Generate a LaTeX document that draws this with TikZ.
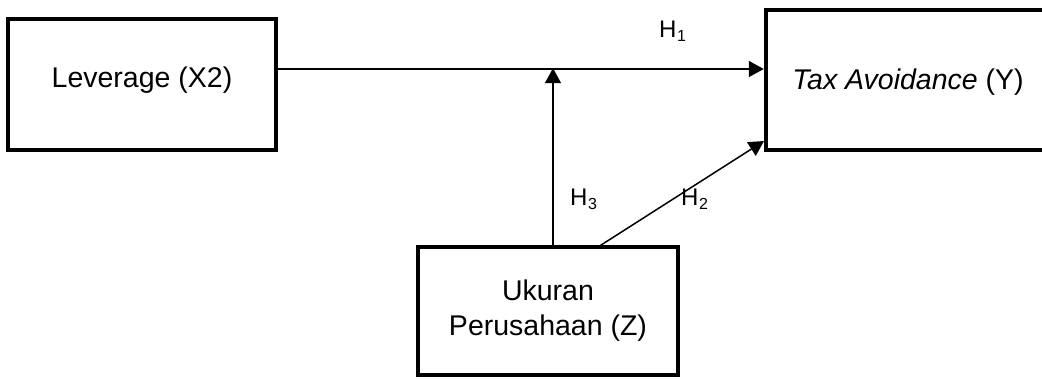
\documentclass[tikz,border=0pt]{standalone}
\usepackage{fontspec}
\setmainfont{Liberation Sans}
\usetikzlibrary{arrows.meta,calc}
\newcommand{\hyp}[1]{H\kern0.5pt\raisebox{-4.5pt}{\fontsize{16}{16}\selectfont #1}}
\begin{document}
\begin{tikzpicture}[x=1pt,y=-1pt,
  box/.style={draw,line width=4.5pt,rectangle,inner sep=0pt,align=center,
    font=\fontsize{28.5}{35}\selectfont},
  conn/.style={line width=1.5pt,-{Triangle[length=15pt,width=16pt]}},
  txt/.style={font=\fontsize{28.5}{35}\selectfont,inner sep=0pt},
  lab/.style={font=\fontsize{24}{28}\selectfont,inner sep=0pt,anchor=base west}]
\useasboundingbox (0,0) rectangle (1042,378);
\clip (0,0) rectangle (1042,378);
\node[box,minimum width=268pt,minimum height=131pt] (L) at (142,84.5) {};
\node[txt] (Lt) at (142,80) {Leverage (X2)};
\node[box,minimum width=290pt,minimum height=140pt] (R) at (911,80) {};
\node[txt] (Rt) at (908,82) {\textit{Tax Avoidance} (Y)};
\node[box,minimum width=260pt,minimum height=128pt] (B) at (548,311) {Ukuran\\Perusahaan (Z)};
\coordinate (j) at (553,69);
\coordinate (d1) at (598,247);
\coordinate (d2) at (764,141);
\draw[conn] (L.east |- j) -- (R.west |- j);
\draw[conn] (B.north -| j) -- ([yshift=0.8pt]j);
\draw[conn] (d1) -- (d2);
\node[lab] (h1) at (659,37) {\hyp{1}};
\node[lab] (h3) at (570,205) {\hyp{3}};
\node[lab] (h2) at (681,205) {\hyp{2}};
\end{tikzpicture}
\end{document}
